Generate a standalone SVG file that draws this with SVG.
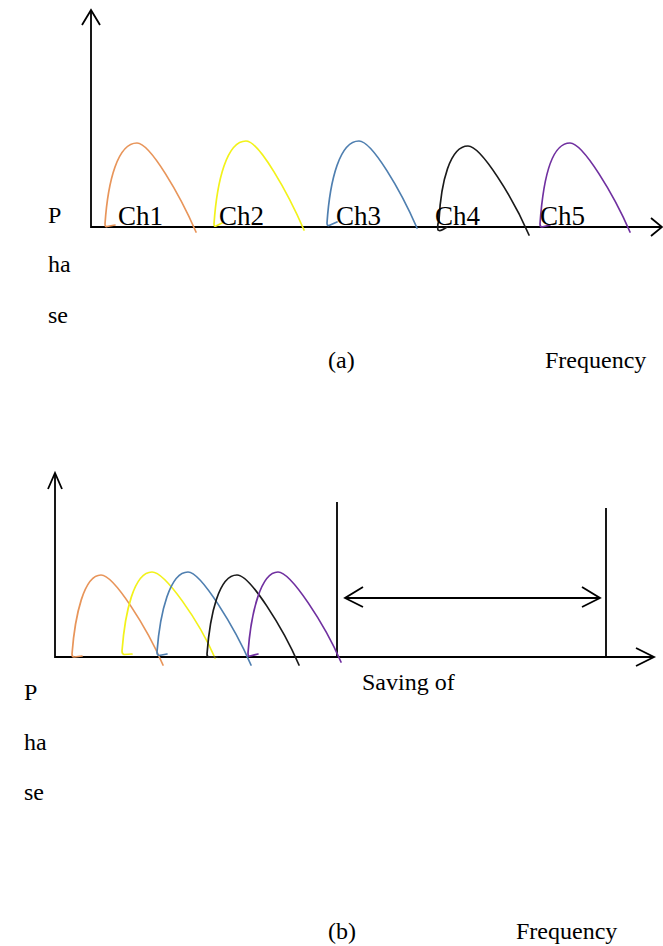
<svg xmlns="http://www.w3.org/2000/svg" width="663" height="946" viewBox="0 0 663 946">
<style>
.ax{stroke:#000;stroke-width:1.8;fill:none}
.cv{fill:none;stroke-width:1.7;stroke-linecap:round;stroke-linejoin:round}
.o{stroke:#E8955A}.y{stroke:#F2F21A}.b{stroke:#4F7FB0}.k{stroke:#1a1a1a}.p{stroke:#7030A0}
text{font-family:"Liberation Serif","Times New Roman",serif;font-size:24px;fill:#000}
.ch{font-size:27px}
</style>
<rect width="663" height="946" fill="#fff"/>
<g id="connectors">
<path class="ax" d="M91,10 V227 H662"/>
<path class="ax" d="M82,25 L91,10 L100,25"/>
<path class="ax" d="M651,218 L662,227 L651,236"/>
<path class="ax" d="M55,473 V657 H654"/>
<path class="ax" d="M48,489 L55,473 L62,489"/>
<path class="ax" d="M636,648 L654,657 L636,666"/>
<path class="ax" d="M337,502 V657 M606,508 V657"/>
<path class="ax" d="M345,598 H600 M363,587 L345,598 L363,607 M582,587 L600,598 L582,607"/>
</g>
<g id="curves-a">
<path class="cv o" d="M115,225 L107,226.5 Q105,227 105,224 C108,180 118,143 137,143 C150,143 180,195 196,232"/>
<path class="cv y" d="M222,223 L216,226 Q214,227 214,224 C217,180 227,141 246,141 C259,141 288,193 304,230"/>
<path class="cv b" d="M337,222 L329,225.5 Q327,226 327,223 C330,179 340,141 359,141 C372,141 401,191 417,228"/>
<path class="cv k" d="M447,227 Q440,232 438,230 Q437,226 439,220 C441,182 450,146 468,146 C481,146 513,198 529,235"/>
<path class="cv p" d="M550,225 L542,227 Q540,227 540,224 C543,181 551,143 570,143 C583,143 614,195 630,232"/>
</g>
<g id="curves-b">
<path class="cv o" d="M82,656 L74,657 Q72,657 72,654 C75,615 84,575 101,575 C114,575 147,628 163,665"/>
<path class="cv y" d="M132,654 L124,654.5 Q122,654 122,651 C125,612 134,572 152,572 C165,572 199,621 215,658"/>
<path class="cv b" d="M167,654 L159,655.5 Q157,655 157,652 C160,612 170,572 188,572 C201,572 235,628 251,665"/>
<path class="cv k" d="M217,657 L209,657 Q207,657 207,654 C210,614 219,575 237,575 C250,575 283,628 299,665"/>
<path class="cv p" d="M258,654 L250,656 Q248,657 248,653 C251,612 261,572 278,572 C291,572 325,625 341,662"/>
</g>
<g id="labels-a">
<text x="48" y="223">P</text>
<text x="48" y="272">ha</text>
<text x="48" y="323">se</text>
<text class="ch" x="118" y="225">Ch1</text>
<text class="ch" x="219" y="225">Ch2</text>
<text class="ch" x="336" y="225">Ch3</text>
<text class="ch" x="435" y="225">Ch4</text>
<text class="ch" x="540" y="225">Ch5</text>
<text x="328" y="368">(a)</text>
<text x="545" y="368">Frequency</text>
</g>
<g id="labels-b">
<text x="24" y="700">P</text>
<text x="24" y="750">ha</text>
<text x="24" y="800">se</text>
<text x="362" y="690">Saving of</text>
<text x="328" y="939">(b)</text>
<text x="516" y="939">Frequency</text>
</g>
</svg>
